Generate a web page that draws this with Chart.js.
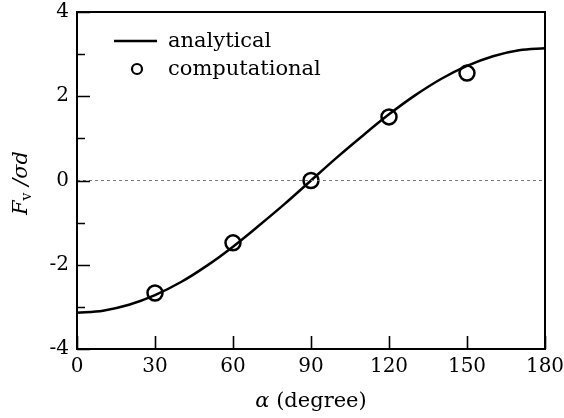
<!DOCTYPE html>
<html>
<head>
<meta charset="utf-8">
<script src="https://cdn.jsdelivr.net/npm/chart.js@4/dist/chart.umd.min.js"></script>
<style>
  html, body { margin: 0; padding: 0; background: #fff; }
  #wrap { width: 564px; height: 418px; }
</style>
</head>
<body>
<div id="wrap"><canvas id="chart"></canvas></div>
<script>
// analytical curve, every 10 degrees
var anaAngles = [0, 10, 20, 30, 40, 50, 60, 70, 80, 90, 100, 110, 120, 130, 140, 150, 160, 170, 180];
var anaValues = [-3.14, -3.09, -2.95, -2.72, -2.41, -2.02, -1.57, -1.07, -0.55, 0, 0.55, 1.07, 1.57, 2.02, 2.41, 2.72, 2.95, 3.09, 3.14];

// computational points
var compAngles = [30, 60, 90, 120, 150];
var compValues = [-2.67, -1.48, 0, 1.51, 2.55];

// zero reference line
var zeroAngles = [0, 180];
var zeroValues = [0, 0];

var xMajorTicks = [0, 30, 60, 90, 120, 150, 180];
var yMajorTicks = [-4, -2, 0, 2, 4];
var yMinorTicks = [-3, -1, 1, 3];

var FONT = "'DejaVu Serif', serif";

function toPoints(xs, ys) {
  var pts = [];
  for (var i = 0; i < xs.length; i++) pts.push({ x: xs[i], y: ys[i] });
  return pts;
}

function noPad(s) {
  s.paddingLeft = 0;
  s.paddingRight = 0;
  s.paddingTop = 0;
  s.paddingBottom = 0;
}

// frame, inward ticks, axis titles and legend
var decor = {
  id: 'decor',
  afterDraw: function (chart) {
    var ctx = chart.ctx;
    var a = chart.chartArea;
    var xs = chart.scales.x, ys = chart.scales.y;
    ctx.save();
    ctx.strokeStyle = '#000';
    ctx.lineWidth = 2;
    ctx.strokeRect(a.left, a.top, a.right - a.left, a.bottom - a.top);

    ctx.lineWidth = 1.6;
    ctx.beginPath();
    xMajorTicks.forEach(function (v) {
      var px = Math.round(xs.getPixelForValue(v)) + 0.5;
      ctx.moveTo(px, a.bottom);
      ctx.lineTo(px, a.bottom - 13);
    });
    yMajorTicks.forEach(function (v) {
      var py = Math.round(ys.getPixelForValue(v)) + 0.5;
      ctx.moveTo(a.left, py);
      ctx.lineTo(a.left + 13, py);
    });
    yMinorTicks.forEach(function (v) {
      var py = Math.round(ys.getPixelForValue(v)) + 0.5;
      ctx.moveTo(a.left, py);
      ctx.lineTo(a.left + 8, py);
    });
    ctx.stroke();

    // x title: alpha (degree)
    ctx.fillStyle = '#000';
    ctx.textBaseline = 'middle';
    ctx.textAlign = 'left';
    var t1 = 'α', t2 = ' (degree)';
    ctx.font = 'italic 21px ' + FONT;
    var w1 = ctx.measureText(t1).width;
    ctx.font = '21px ' + FONT;
    var w2 = ctx.measureText(t2).width;
    var sx = (a.left + a.right) / 2 - (w1 + w2) / 2;
    ctx.font = 'italic 21px ' + FONT;
    ctx.fillText(t1, sx, 402);
    ctx.font = '21px ' + FONT;
    ctx.fillText(t2, sx + w1, 402);

    // y title: F_v /σd, rotated
    ctx.save();
    ctx.translate(22, 183);
    ctx.rotate(-Math.PI / 2);
    var parts = [
      { s: 'F', f: 'italic 21px ' + FONT, dy: 0 },
      { s: 'v', f: '14px ' + FONT, dy: 5 },
      { s: ' /', f: 'italic 21px ' + FONT, dy: 0 },
      { s: 'σd', f: 'italic 21px ' + FONT, dy: 0 }
    ];
    var tw = 0;
    parts.forEach(function (p) { ctx.font = p.f; p.w = ctx.measureText(p.s).width; tw += p.w; });
    var cx = -tw / 2;
    parts.forEach(function (p) {
      ctx.font = p.f;
      ctx.fillText(p.s, cx, p.dy);
      cx += p.w;
    });
    ctx.restore();

    // legend
    var ds = chart.data.datasets;
    ctx.font = '21px ' + FONT;
    ctx.lineWidth = 2.5;
    ctx.beginPath();
    ctx.moveTo(114, 41);
    ctx.lineTo(157, 41);
    ctx.stroke();
    ctx.fillText(ds[1].label, 168, 42);
    ctx.beginPath();
    ctx.arc(137, 69, 5, 0, Math.PI * 2);
    ctx.fillStyle = '#fff';
    ctx.fill();
    ctx.lineWidth = 2.2;
    ctx.stroke();
    ctx.fillStyle = '#000';
    ctx.fillText(ds[2].label, 168, 70);
    ctx.restore();
  }
};

new Chart(document.getElementById('chart'), {
  type: 'scatter',
  data: {
    datasets: [
      {
        label: 'zero',
        data: toPoints(zeroAngles, zeroValues),
        showLine: true,
        borderColor: '#777',
        borderWidth: 1,
        borderDash: [3, 3],
        pointRadius: 0
      },
      {
        label: 'analytical',
        data: toPoints(anaAngles, anaValues),
        showLine: true,
        borderColor: '#000',
        borderWidth: 2.5,
        cubicInterpolationMode: 'monotone',
        pointRadius: 0
      },
      {
        label: 'computational',
        data: toPoints(compAngles, compValues),
        showLine: false,
        pointRadius: 7.5,
        pointBorderWidth: 2.5,
        pointBorderColor: '#000',
        pointBackgroundColor: '#fff'
      }
    ]
  },
  options: {
    responsive: true,
    maintainAspectRatio: false,
    animation: false,
    events: [],
    layout: { padding: { top: 12, right: 19, left: 0, bottom: 0 } },
    plugins: {
      legend: { display: false },
      tooltip: { enabled: false }
    },
    scales: {
      x: {
        type: 'linear',
        min: 0,
        max: 180,
        grid: { display: false, drawTicks: false },
        border: { display: false },
        ticks: {
          stepSize: 30,
          padding: 6,
          color: '#000',
          font: { family: FONT, size: 20 }
        },
        afterFit: function (s) { s.height = 69; noPad(s); }
      },
      y: {
        type: 'linear',
        min: -4,
        max: 4,
        grid: { display: false, drawTicks: false },
        border: { display: false },
        ticks: {
          stepSize: 2,
          padding: 8,
          color: '#000',
          font: { family: FONT, size: 20 }
        },
        afterFit: function (s) { s.width = 77; noPad(s); }
      }
    }
  },
  plugins: [decor]
});
</script>
</body>
</html>
